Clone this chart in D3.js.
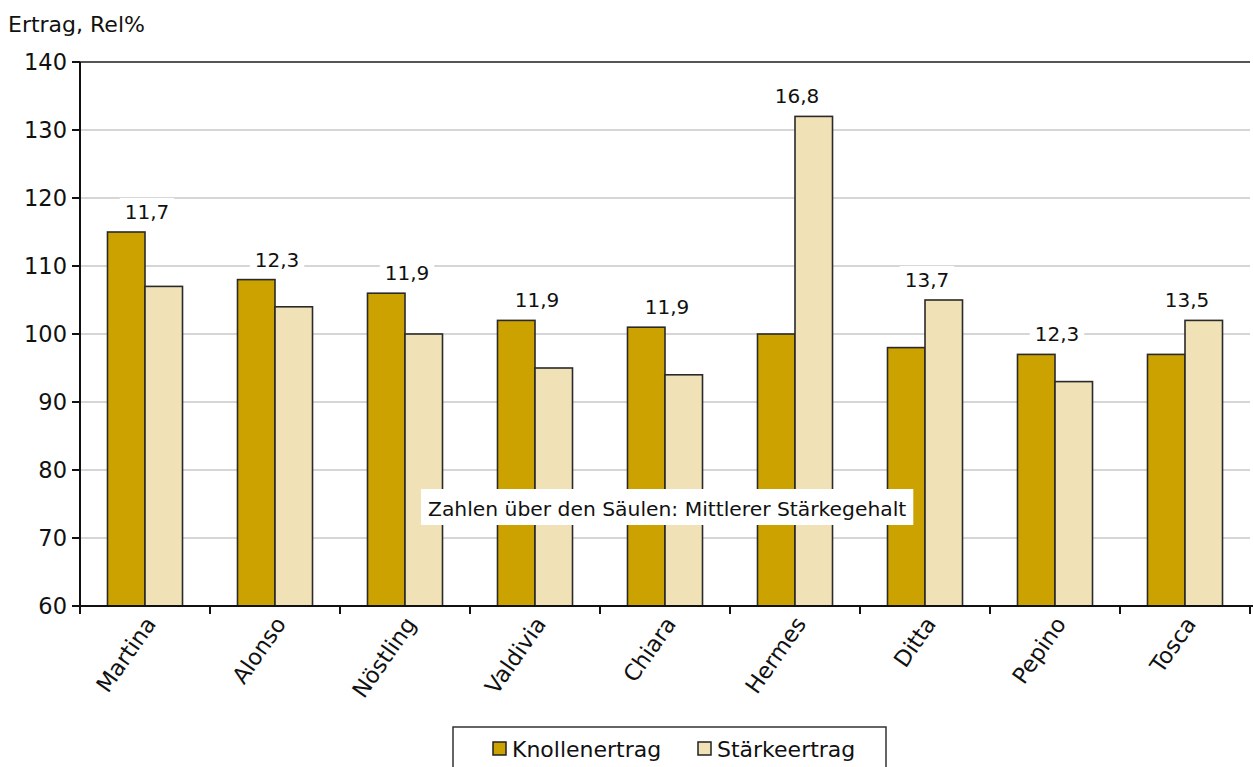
<!DOCTYPE html>
<html>
<head>
<meta charset="utf-8">
<script src="https://cdn.jsdelivr.net/npm/d3@7"></script>
<style>
html,body{margin:0;padding:0;background:#fff;}
svg{display:block;}
text{font-family:"DejaVu Sans",Verdana,sans-serif;fill:#111;}
</style>
</head>
<body>
<svg id="chart" width="1253" height="767"></svg>
<script>
const categories = ["Martina","Alonso","Nöstling","Valdivia","Chiara","Hermes","Ditta","Pepino","Tosca"];
const knollenertrag = [115,108,106,102,101,100,98,97,97];
const staerkeertrag = [107,104,100,95,94,132,105,93,102];
const staerkegehalt = ["11,7","12,3","11,9","11,9","11,9","16,8","13,7","12,3","13,5"];
const seriesNames = ["Knollenertrag","Stärkeertrag"];
const yTicks = [60,70,80,90,100,110,120,130,140];
const colors = ["#CBA200","#F1E1B6"];

const svg = d3.select("#chart");
const m = {left:80, right:1250, top:62, bottom:606};

const x = d3.scaleBand().domain(categories).range([m.left, m.right]).paddingInner(0).paddingOuter(0);
const xs = d3.scaleBand().domain(seriesNames).range([0, x.bandwidth()]).paddingInner(0).paddingOuter(0.733);
const y = d3.scaleLinear().domain([60,140]).range([m.bottom, m.top]);

// gridlines
svg.append("g").selectAll("line").data(yTicks.filter(d=>d>60)).join("line")
  .attr("x1", m.left).attr("x2", m.right)
  .attr("y1", d=>y(d)).attr("y2", d=>y(d))
  .attr("stroke", d=> d===140 ? "#555" : "#c8c8c8")
  .attr("stroke-width", d=> d===140 ? 2 : 1.5);

// bars
const data = categories.map((c,i)=>({c, vals:[knollenertrag[i], staerkeertrag[i]], lab: staerkegehalt[i]}));
const grp = svg.append("g").selectAll("g").data(data).join("g")
  .attr("transform", d=>`translate(${x(d.c)},0)`);
grp.selectAll("rect").data(d=>d.vals.map((v,j)=>({v, s:seriesNames[j], j}))).join("rect")
  .attr("x", d=>xs(d.s)).attr("width", xs.bandwidth())
  .attr("y", d=>y(d.v)).attr("height", d=>y(60)-y(d.v))
  .attr("fill", d=>colors[d.j]).attr("stroke","#2a2a2a").attr("stroke-width",1.6);

// value labels
const lg = svg.append("g");
data.forEach(d=>{
  const cx = x(d.c) + x.bandwidth()/2 + 2;
  const top = y(d3.max(d.vals));
  const t = lg.append("text").attr("x", cx).attr("y", top - 13)
    .attr("text-anchor","middle").attr("font-size", 20).text(d.lab);
  const bb = t.node().getBBox();
  lg.insert("rect","text").attr("x", bb.x-5).attr("y", bb.y-2).attr("width", bb.width+10).attr("height", bb.height+4).attr("fill","#fff");
});

// axes
const yAxis = svg.append("g");
yAxis.append("line").attr("x1",m.left).attr("x2",m.left).attr("y1",m.top).attr("y2",m.bottom).attr("stroke","#111").attr("stroke-width",2);
yAxis.selectAll("line.tk").data(yTicks).join("line").attr("class","tk")
  .attr("x1",m.left-8).attr("x2",m.left).attr("y1",d=>y(d)).attr("y2",d=>y(d)).attr("stroke","#111").attr("stroke-width",2);
yAxis.selectAll("text").data(yTicks).join("text")
  .attr("x", m.left-13).attr("y", d=>y(d)).attr("dy","0.36em")
  .attr("text-anchor","end").attr("font-size",22.5).text(d=>d);

const xAxis = svg.append("g");
xAxis.append("line").attr("x1",m.left).attr("x2",m.right+3).attr("y1",m.bottom).attr("y2",m.bottom).attr("stroke","#111").attr("stroke-width",2);
xAxis.selectAll("line.tk").data(categories.concat(["_end"])).join("line").attr("class","tk")
  .attr("x1",(d,i)=> m.left + i*x.step()).attr("x2",(d,i)=> m.left + i*x.step())
  .attr("y1",m.bottom).attr("y2",m.bottom+8).attr("stroke","#111").attr("stroke-width",2);
xAxis.selectAll("text").data(categories).join("text")
  .attr("transform", d=>`translate(${x(d)+x.bandwidth()/2+12},${m.bottom+18}) rotate(-55)`)
  .attr("text-anchor","end").attr("font-size",22.5).text(d=>d);

// y title
svg.append("text").attr("x",8).attr("y",32).attr("font-size",22).text("Ertrag, Rel%");

// annotation
const ann = svg.append("g");
const at = ann.append("text").attr("x", 428).attr("y", 516).attr("font-size",20.3).text("Zahlen über den Säulen: Mittlerer Stärkegehalt");
const abb = at.node().getBBox();
ann.insert("rect","text").attr("x", abb.x-7).attr("y", 489).attr("width", abb.width+14).attr("height", 36).attr("fill","#fff");

// legend
const leg = svg.append("g");
leg.append("rect").attr("x",453).attr("y",727).attr("width",433).attr("height",60).attr("fill","#fff").attr("stroke","#333").attr("stroke-width",1.5);
const legX = [493, 698];
seriesNames.forEach((s,i)=>{
  leg.append("rect").attr("x",legX[i]).attr("y",742).attr("width",13).attr("height",13).attr("fill",colors[i]).attr("stroke","#222").attr("stroke-width",1.5);
  leg.append("text").attr("x",legX[i]+19).attr("y",757).attr("font-size",22).text(s);
});
</script>
</body>
</html>
